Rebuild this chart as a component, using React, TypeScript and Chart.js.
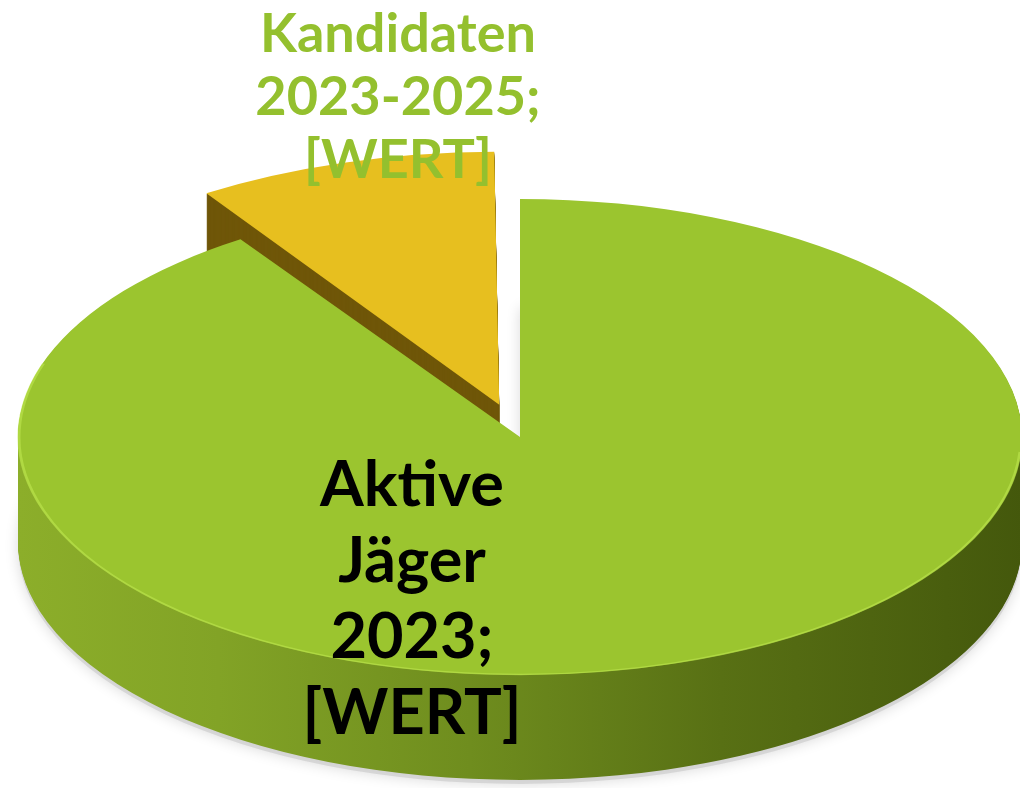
import React, { useEffect, useRef } from "react";
import { Chart, registerables } from "chart.js";

Chart.register(...registerables);

// ---- data ----
const categories = ["Aktive Jäger 2023", "Kandidaten 2023-2025"];
const values = [90.6, 9.4];
const labelLines = [
  ["Aktive", "Jäger", "2023;", "[WERT]"],
  ["Kandidaten", "2023-2025;", "[WERT]"],
];
const topColors = ["#9bc52f", "#e7bf1f"];
const labelColors = ["#000000", "#94c02e"];
const sliceOffsets = [0, 285];

// ---- 3D look ----
const CENTER_Y = 437;
const TILT = 0.474;
const DEPTH = 105;
const RADIUS = 502;

function tilt(ctx: CanvasRenderingContext2D, chart: any, dy: number) {
  const a = chart.chartArea;
  const cy = (a.top + a.bottom) / 2;
  ctx.translate(0, CENTER_Y + dy);
  ctx.scale(1, TILT);
  ctx.translate(0, -cy);
}

function drawWith(el: any, ctx: CanvasRenderingContext2D, bg: any) {
  const orig = el.options;
  el.options = Object.assign({}, orig, { backgroundColor: bg, borderWidth: 0 });
  el.draw(ctx);
  el.options = orig;
}

const pie3d = {
  id: "pie3d",
  beforeDatasetsDraw(chart: any) {
    const ctx: CanvasRenderingContext2D = chart.ctx;
    const meta = chart.getDatasetMeta(0);
    const els = meta.data;
    const cx = els[0].x;
    const g = ctx.createLinearGradient(cx - RADIUS, 0, cx + RADIUS, 0);
    g.addColorStop(0, "#8cae2a");
    g.addColorStop(0.2, "#82a326");
    g.addColorStop(0.45, "#6f8d1e");
    g.addColorStop(0.7, "#587014");
    g.addColorStop(1, "#44580c");
    const sides = [g, "#6f5608"];
    // soft shadow
    ctx.save();
    tilt(ctx, chart, DEPTH + 4);
    ctx.shadowColor = "rgba(0,0,0,0.25)";
    ctx.shadowBlur = 14;
    drawWith(els[0], ctx, "rgba(200,200,200,0.6)");
    ctx.restore();
    for (let d = DEPTH; d >= 1; d--) {
      ctx.save();
      tilt(ctx, chart, d);
      els.forEach((el: any, i: number) => drawWith(el, ctx, sides[i]));
      ctx.restore();
    }
    ctx.save();
    tilt(ctx, chart, 0);
  },
  afterDatasetsDraw(chart: any) {
    const ctx: CanvasRenderingContext2D = chart.ctx;
    const el = chart.getDatasetMeta(0).data[0];
    // light rim on the front edge of the top face
    ctx.beginPath();
    ctx.arc(el.x, el.y, el.outerRadius - 1, Math.PI * 0.02, Math.PI * 1.1);
    ctx.lineWidth = 3;
    ctx.strokeStyle = "rgba(190,230,80,0.6)";
    ctx.stroke();
    ctx.restore();
  },
  afterDraw(chart: any) {
    const ctx: CanvasRenderingContext2D = chart.ctx;
    ctx.save();
    ctx.textAlign = "center";
    ctx.textBaseline = "alphabetic";
    // green label (small slice)
    ctx.font = "bold 54px Lato, 'Noto Sans', sans-serif";
    ctx.fillStyle = labelColors[1];
    labelLines[1].forEach((t, i) => ctx.fillText(t, 398, 52 + i * 63));
    // black label (large slice)
    ctx.font = "bold 63px Lato, 'Noto Sans', sans-serif";
    ctx.fillStyle = labelColors[0];
    labelLines[0].forEach((t, i) => ctx.fillText(t, 412, 506 + i * 76));
    ctx.restore();
  },
};

export default function App() {
  const ref = useRef<HTMLCanvasElement>(null);
  useEffect(() => {
    document.body.style.margin = "0";
    const chart = new Chart(ref.current!, {
      type: "pie",
      data: {
        labels: categories,
        datasets: [
          {
            data: values,
            backgroundColor: topColors,
            borderWidth: 0,
            offset: sliceOffsets,
            radius: RADIUS,
          } as any,
        ],
      },
      options: {
        responsive: false,
        maintainAspectRatio: false,
        animation: false,
        layout: { padding: { left: 20 } },
        plugins: { legend: { display: false }, tooltip: { enabled: false } },
        events: [],
      },
      plugins: [pie3d],
    });
    return () => chart.destroy();
  }, []);
  return <canvas ref={ref} width={1020} height={788} style={{ display: "block" }} />;
}
